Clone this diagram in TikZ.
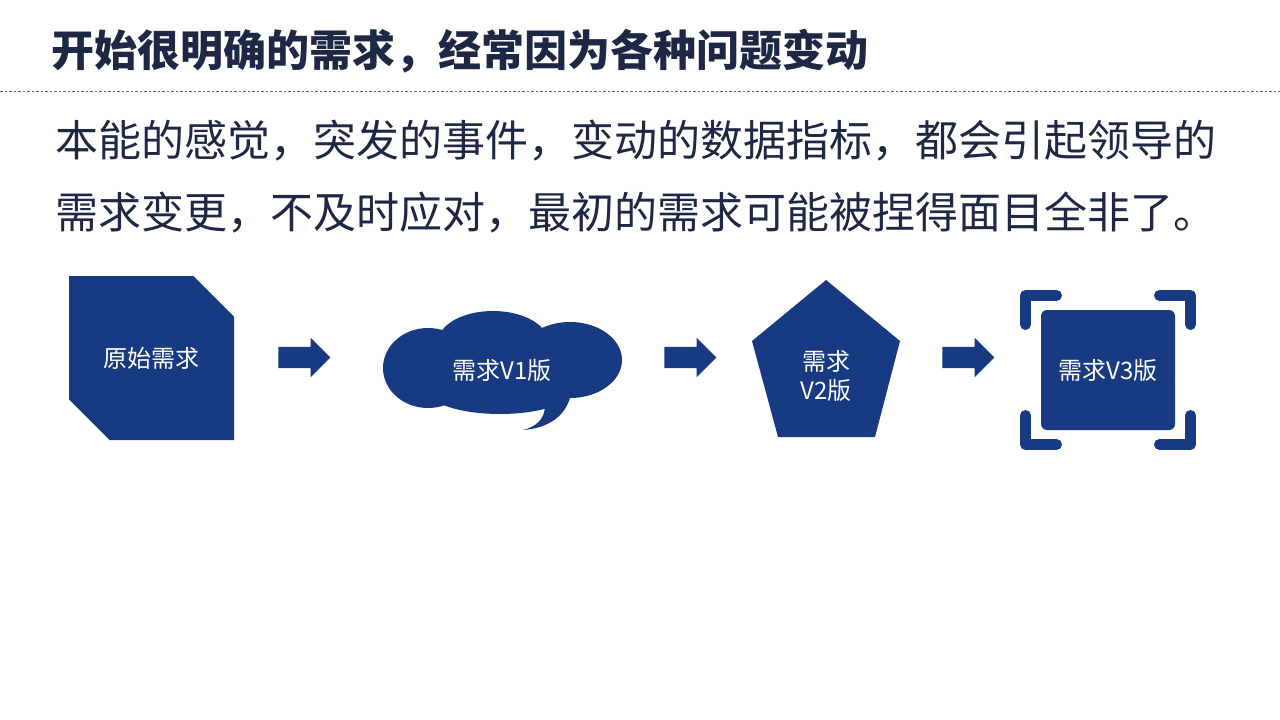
\documentclass[tikz,border=0pt]{standalone}
\usepackage{fontspec}
\usepackage{xcolor}
\usepackage{tikz}
\usetikzlibrary{shapes.misc,shapes.arrows,positioning}
\newfontfamily\cjk{Noto Sans CJK SC}
\definecolor{reqblue}{HTML}{173A82}
\definecolor{inkblue}{HTML}{1E2845}
\definecolor{rulegray}{HTML}{5B6580}
\tikzset{
  headline/.style={anchor=base west,inner sep=0pt,text=inkblue,
    font=\cjk\bfseries\fontsize{43}{50}\selectfont},
  bodyline/.style={anchor=base west,inner sep=0pt,text=inkblue,
    font=\cjk\fontsize{43}{72}\selectfont},
  reqfill/.style={fill=reqblue,draw=none},
  reqtext/.style={text=white,align=center,inner sep=0pt,
    font=\cjk\fontsize{24}{29}\selectfont},
  reqarrow/.style={single arrow,fill=reqblue,draw=none,inner xsep=0pt,
    inner ysep=10.5pt,minimum height=52pt,single arrow head extend=9pt},
  reqbracket/.style={draw=reqblue,line width=11pt,line cap=round,line join=round},
}

\begin{document}
\begin{tikzpicture}[x=1pt,y=-1pt]
\useasboundingbox (0,0) rectangle (1280,720);
\node[headline] (title) at (51,66) {开始很明确的需求，经常因为各种问题变动};
\draw[rulegray,line width=1pt,dash pattern=on 2.5pt off 2pt] (0,91) -- (1280,91);
\node[bodyline] (line1) at (55,156) {本能的感觉，突发的事件，变动的数据指标，都会引起领导的};
\node[bodyline] (line2) at (55,228) {需求变更，不及时应对，最初的需求可能被捏得面目全非了。};

% original request
\node[reqfill,reqtext,chamfered rectangle,
  chamfered rectangle corners={north east,south west},
  chamfered rectangle xsep=29.5pt,chamfered rectangle ysep=29.5pt,
  minimum width=165pt,minimum height=164pt] (orig) at (151.5,358) {原始需求};

% cloud for V1
\fill[reqfill] (428,368) ellipse [x radius=45,y radius=40];
\fill[reqfill] (493,342) ellipse [x radius=55,y radius=31];
\fill[reqfill] (570,360) ellipse [x radius=52,y radius=38];
\fill[reqfill] (500,388) ellipse [x radius=75,y radius=26];
\fill[reqfill] (545,405) .. controls (545,420) and (535,427) .. (523,430)
  .. controls (550,428) and (565,415) .. (570,398) -- cycle;
\node[reqtext] (v1) at (502,370) {需求V1版};

% pentagon for V2
\fill[reqfill] (826,280) -- (900,341) -- (875,437) -- (778,437) -- (752,341) -- cycle;
\node[reqtext] (v2) at (826,376) {需求\\V2版};

% framed square for V3
\node[reqfill,reqtext,rounded corners=6pt,minimum width=134pt,
  minimum height=120pt] (v3) at (1108,370) {需求V3版};
\foreach \cx/\cy/\sx/\sy in {1025.5/295.5/1/1,1190.5/295.5/-1/1,
  1025.5/444.5/1/-1,1190.5/444.5/-1/-1}
  \draw[reqbracket] (\cx+31*\sx,\cy) -- (\cx,\cy) -- (\cx,\cy+29*\sy);

\node[reqarrow] (step1) at (299,357.5) {};
\node[reqarrow] (step2) at (685,357.5) {};
\node[reqarrow] (step3) at (963,357.5) {};
\end{tikzpicture}
\end{document}
